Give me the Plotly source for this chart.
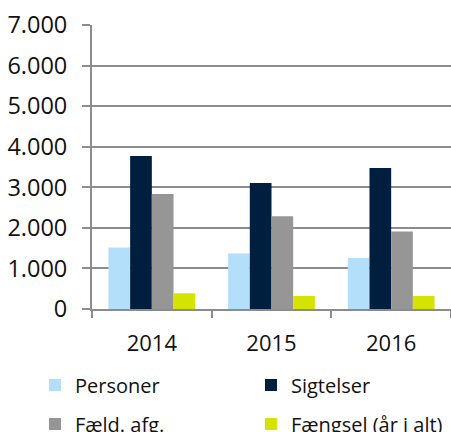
import plotly.graph_objects as go

years = ["2014", "2015", "2016"]
series_names = ["Personer", "Sigtelser", "Fæld. afg.", "Fængsel (år i alt)"]
personer = [1516, 1368, 1259]
sigtelser = [3770, 3104, 3474]
faeld = [2832, 2289, 1911]
faengsel = [387, 321, 321]
y_ticks = [0, 1000, 2000, 3000, 4000, 5000, 6000, 7000]

colors = ["#b3dffa", "#001e3e", "#969696", "#d4e400"]
values = [personer, sigtelser, faeld, faengsel]
legend_ids = ["legend", "legend2", "legend3", "legend4"]
# legend placement (container coords): columns and rows
legend_x = [0.0776, 0.5565, 0.0776, 0.5565]
legend_y = [0.1088, 0.1088, 0.0185, 0.0185]

FONT = "Open Sans"
fig = go.Figure()
for name, vals, col, lg in zip(series_names, values, colors, legend_ids):
    fig.add_trace(go.Bar(x=years, y=vals, name=name, marker=dict(color=col, line=dict(width=0)),
                         legend=lg))

grid = "#8c8c8c"
fig.update_layout(
    width=451, height=432,
    margin=dict(l=92, r=0, t=25, b=123),
    paper_bgcolor="white", plot_bgcolor="white",
    barmode="group", bargap=0.275, bargroupgap=0,
    separators=",.",
    font=dict(family=FONT, color="#111111", size=21),
    showlegend=True,
)
for lg, lx, ly in zip(legend_ids, legend_x, legend_y):
    fig.update_layout({lg: dict(orientation="h", x=lx, xanchor="left", y=ly, yanchor="middle",
                                xref="container", yref="container",
                                font=dict(size=20, family=FONT, color="#111111"),
                                bgcolor="rgba(0,0,0,0)", borderwidth=0)})

fig.update_xaxes(type="category", tickson="boundaries", ticks="outside", ticklen=7,
                 tickcolor=grid, tickwidth=1.5, showline=True, linecolor=grid, linewidth=2,
                 showgrid=False, tickfont=dict(size=22, family=FONT), ticklabelstandoff=14)
fig.update_yaxes(range=[0, 7000], tickvals=y_ticks, separatethousands=True, tickformat=",d",
                 showgrid=True, gridcolor=grid, gridwidth=1.5, zeroline=False,
                 showline=True, linecolor=grid, linewidth=2,
                 ticks="outside", ticklen=8, tickcolor=grid, tickwidth=1.5,
                 tickfont=dict(size=23.5, family=FONT), ticklabelstandoff=10)

fig.write_html("out.html")
